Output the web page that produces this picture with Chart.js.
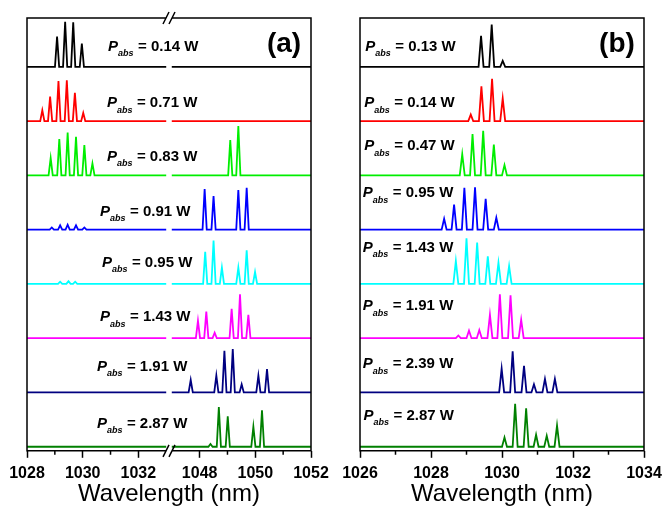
<!DOCTYPE html>
<html>
<head>
<meta charset="utf-8">
<script src="https://cdn.jsdelivr.net/npm/chart.js@4"></script>
<style>
  body { margin: 0; background: #fff; }
  .panel { position: absolute; top: 0; width: 333px; height: 506px; }
</style>
</head>
<body>
<div class="panel" style="left:0"><canvas id="chartA" width="333" height="506"></canvas></div>
<div class="panel" style="left:333px"><canvas id="chartB" width="333" height="506"></canvas></div>
<script>
// traces from top to bottom
const colors = ["#000000", "#ff0000", "#00ee00", "#0000ff", "#00ffff", "#ff00ff", "#000080", "#008000"];
const powersA = ["0.14", "0.71", "0.83", "0.91", "0.95", "1.43", "1.91", "2.87"];
const powersB = ["0.13", "0.14", "0.47", "0.95", "1.43", "1.91", "2.39", "2.87"];

// peaks [wavelength nm, height]
const peaksA = [
    [[1029.08, 0.56], [1029.37, 0.83], [1029.66, 0.82], [1029.97, 0.43]],
    [[1028.55, 0.2], [1028.83, 0.45], [1029.13, 0.74], [1029.43, 0.75], [1029.72, 0.52], [1030.02, 0.15]],
    [[1028.85, 0.32], [1029.16, 0.67], [1029.46, 0.79], [1029.76, 0.71], [1030.06, 0.56], [1030.35, 0.22],
     [1049.10, 0.65], [1049.39, 0.91]],
    [[1028.89, 0.04], [1029.19, 0.08], [1029.46, 0.09], [1029.76, 0.08], [1030.06, 0.04],
     [1048.18, 0.75], [1048.50, 0.62], [1049.39, 0.73], [1049.69, 0.77]],
    [[1029.19, 0.04], [1029.49, 0.05], [1029.73, 0.04],
     [1048.20, 0.59], [1048.50, 0.80], [1048.80, 0.30], [1049.39, 0.30], [1049.69, 0.62], [1049.99, 0.22]],
    [[1047.94, 0.32], [1048.24, 0.49], [1048.54, 0.10], [1049.15, 0.54], [1049.45, 0.81], [1049.75, 0.43]],
    [[1047.68, 0.23], [1048.60, 0.31], [1048.89, 0.77], [1049.19, 0.80], [1049.51, 0.15], [1050.11, 0.31], [1050.42, 0.43]],
    [[1048.39, 0.05], [1048.69, 0.73], [1049.01, 0.56], [1049.93, 0.37], [1050.24, 0.67]]
];

// peaks [wavelength nm, height]
const peaksB = [
    [[1029.41, 0.57], [1029.71, 0.78], [1030.02, 0.11]],
    [[1029.12, 0.12], [1029.42, 0.64], [1029.72, 0.78], [1030.02, 0.42]],
    [[1028.88, 0.39], [1029.17, 0.76], [1029.47, 0.82], [1029.77, 0.57], [1030.07, 0.19]],
    [[1028.37, 0.20], [1028.65, 0.46], [1028.94, 0.77], [1029.24, 0.78], [1029.54, 0.57], [1029.84, 0.22]],
    [[1028.70, 0.42], [1029.00, 0.84], [1029.30, 0.76], [1029.60, 0.51], [1029.90, 0.39], [1030.20, 0.33]],
    [[1028.77, 0.05], [1029.07, 0.14], [1029.36, 0.15], [1029.66, 0.43], [1029.94, 0.81], [1030.24, 0.79], [1030.54, 0.34]],
    [[1029.99, 0.44], [1030.30, 0.76], [1030.62, 0.49], [1030.90, 0.15], [1031.21, 0.25], [1031.49, 0.25]],
    [[1030.07, 0.17], [1030.37, 0.79], [1030.68, 0.71], [1030.96, 0.22], [1031.26, 0.20], [1031.55, 0.39]]
];

// axis ticks
const ticksA = [1028, 1030, 1032, 1048, 1050, 1052];
const minorA = [1029, 1031, 1049, 1051];
const ticksB = [1026, 1028, 1030, 1032, 1034];
const minorB = [1027, 1029, 1031, 1033];

// broken axis of panel (a): 1047..1052 is drawn right after 1033
const SHIFT = 13.8;
const toAxisA = v => v > 1040 ? v - SHIFT : v;

// label anchors (left edge in nm, height above baseline)
const labelA = [[1030.91, 0.37], [1030.87, 0.33], [1030.87, 0.35], [1030.62, 0.33],
                [1030.69, 0.39], [1030.62, 0.39], [1030.51, 0.48], [1030.51, 0.43]];
const labelB = [[1026.15, 0.37], [1026.12, 0.33], [1026.12, 0.54], [1026.08, 0.67],
                [1026.08, 0.67], [1026.08, 0.59], [1026.08, 0.52], [1026.1, 0.57]];

// turn a list of peaks into line points
function buildTrace(peaks, base, segments, w, mapX) {
    const pts = [];
    segments.forEach((seg, si) => {
        if (si > 0) pts.push({ x: mapX((segments[si - 1][1] + seg[0]) / 2), y: null });
        pts.push({ x: mapX(seg[0]), y: base });
        peaks.filter(p => p[0] > seg[0] && p[0] < seg[1]).forEach(p => {
            pts.push({ x: mapX(p[0] - w), y: base });
            pts.push({ x: mapX(p[0]), y: base + p[1] });
            pts.push({ x: mapX(p[0] + w), y: base });
        });
        pts.push({ x: mapX(seg[1]), y: base });
    });
    return pts;
}

const framePlugin = {
    id: "frame",
    afterDraw(chart, args, opts) {
        const { ctx, chartArea: a, scales } = chart;
        const xs = scales.x, ys = scales.y;
        ctx.save();
        ctx.strokeStyle = "#000";
        ctx.lineWidth = 1.5;
        ctx.beginPath();
        if (opts.breakAt) {
            const bx = xs.getPixelForValue(opts.breakAt);
            ctx.moveTo(bx - 3, a.top); ctx.lineTo(a.left, a.top);
            ctx.lineTo(a.left, a.bottom); ctx.lineTo(bx - 3, a.bottom);
            ctx.moveTo(bx + 3, a.top); ctx.lineTo(a.right, a.top);
            ctx.lineTo(a.right, a.bottom); ctx.lineTo(bx + 3, a.bottom);
            [a.top, a.bottom].forEach(yy => {
                [-3, 3].forEach(dx => {
                    ctx.moveTo(bx + dx - 3, yy + 6);
                    ctx.lineTo(bx + dx + 3, yy - 6);
                });
            });
        } else {
            ctx.rect(a.left, a.top, a.right - a.left, a.bottom - a.top);
        }
        opts.minor.forEach(v => {
            const px = xs.getPixelForValue(opts.map(v));
            ctx.moveTo(px, a.bottom);
            ctx.lineTo(px, a.bottom + 4);
        });
        ctx.stroke();

        // P_abs labels
        ctx.fillStyle = "#000";
        ctx.textBaseline = "middle";
        ctx.textAlign = "left";
        opts.powers.forEach((pw, i) => {
            const lx = xs.getPixelForValue(opts.map(opts.labels[i][0]));
            const ly = ys.getPixelForValue(7 - i + opts.labels[i][1]);
            ctx.font = "italic bold 15px 'Liberation Sans', Arial, sans-serif";
            ctx.fillText("P", lx, ly);
            ctx.font = "italic bold 9px 'Liberation Sans', Arial, sans-serif";
            ctx.fillText("abs", lx + 10, ly + 7);
            ctx.font = "bold 15px 'Liberation Sans', Arial, sans-serif";
            ctx.fillText("= " + pw + " W", lx + 30, ly);
        });

        ctx.font = "bold 28px 'Liberation Sans', Arial, sans-serif";
        ctx.textAlign = "center";
        ctx.fillText(opts.letter, a.right - 27, a.top + 26);
        ctx.restore();
    }
};

function makeChart(id, peaks, segments, w, mapX, xOpts, plug) {
    const datasets = peaks.map((pk, i) => ({
        data: buildTrace(pk, 7 - i, segments, w, mapX),
        borderColor: colors[i],
        borderWidth: 1.8,
        pointRadius: 0,
        tension: 0,
        fill: false
    }));
    return new Chart(document.getElementById(id), {
        type: "line",
        data: { datasets },
        options: {
            responsive: false,
            animation: false,
            layout: { padding: { left: 27, right: 22, top: 18, bottom: 0 } },
            plugins: { legend: { display: false }, tooltip: { enabled: false }, frame: plug },
            scales: {
                x: Object.assign({
                    type: "linear",
                    border: { display: false },
                    afterFit: s => { s.paddingLeft = 0; s.paddingRight = 0; },
                    grid: { drawOnChartArea: false, drawTicks: true, tickLength: 7, tickWidth: 1.5, tickColor: "#000" },
                    title: {
                        display: true, text: "Wavelength (nm)", color: "#000",
                        font: { family: "'Liberation Sans', Arial, sans-serif", size: 24, lineHeight: 1 },
                        padding: { top: -7, bottom: 0 }
                    }
                }, xOpts),
                y: { display: false, min: -0.075, max: 7.9 }
            }
        },
        plugins: [framePlugin]
    });
}

const tickFont = { family: "'Liberation Sans', Arial, sans-serif", size: 16, weight: "bold" };

makeChart("chartA", peaksA, [[1028, 1033], [1047, 1052]], 0.075, toAxisA, {
    min: 1028, max: 1052 - SHIFT,
    afterBuildTicks: s => { s.ticks = ticksA.map(v => ({ value: toAxisA(v) })); },
    ticks: { autoSkip: false, maxRotation: 0, padding: 6, color: "#000", font: tickFont,
             callback: v => String(v > 1033.1 ? Math.round(v + SHIFT) : v) }
}, { breakAt: 1033.1, minor: minorA, map: toAxisA, powers: powersA, labels: labelA, letter: "(a)" });

makeChart("chartB", peaksB, [[1026, 1034]], 0.07, v => v, {
    min: 1026, max: 1034,
    afterBuildTicks: s => { s.ticks = ticksB.map(v => ({ value: v })); },
    ticks: { autoSkip: false, maxRotation: 0, padding: 6, color: "#000", font: tickFont,
             callback: v => String(v) }
}, { breakAt: null, minor: minorB, map: v => v, powers: powersB, labels: labelB, letter: "(b)" });
</script>
</body>
</html>
